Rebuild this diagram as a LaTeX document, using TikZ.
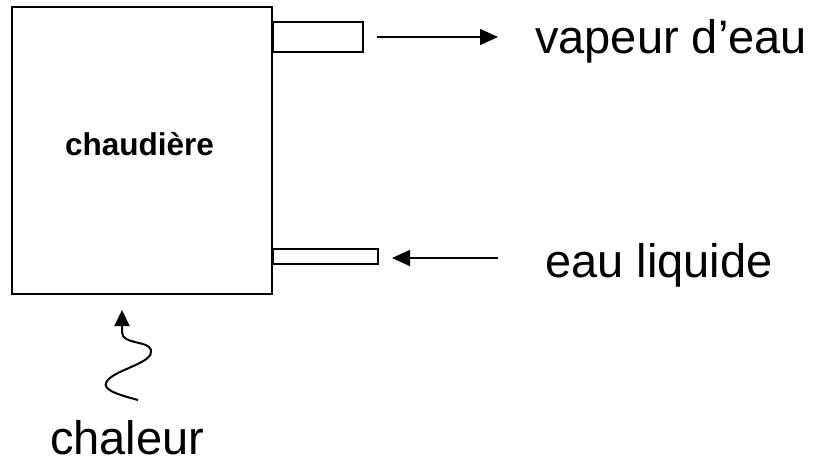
\documentclass[tikz,border=0pt]{standalone}
\usepackage{fontspec}
\setmainfont{Liberation Sans}
\usetikzlibrary{arrows.meta}
\begin{document}
\begin{tikzpicture}[x=1pt,y=-1pt,
  boiler/.style={draw,line width=2pt,inner sep=0pt},
  pipe/.style={draw,line width=1.5pt,inner sep=0pt},
  flow/.style={line width=1.5pt,-{Triangle[length=18pt,width=16pt]}},
  heat/.style={line width=2pt,-{Triangle[length=16pt,width=15pt]}},
  bigtext/.style={inner sep=0pt,anchor=base west,font=\fontsize{47}{56}\selectfont},
  smalltext/.style={inner sep=0pt,anchor=base west,font=\fontsize{31.5}{36}\selectfont\bfseries}]
\useasboundingbox (0,0) rectangle (813,461);
% boiler box
\node[boiler,minimum width=260pt,minimum height=287pt] (boil) at (142,150.5) {};
% pipes
\node[pipe,minimum width=90pt,minimum height=30pt,anchor=west] (pipeA) at (272,37) {};
\node[pipe,minimum width=105pt,minimum height=15pt,anchor=west] (pipeB) at (272,256.5) {};
% arrow ends
\coordinate (aS) at (377,37);
\coordinate (aE) at (498,37);
\coordinate (bS) at (498,258);
\coordinate (bE) at (392,258);
\draw[flow] (aS) -- (aE);
\draw[flow] (bS) -- (bE);
% wavy heat arrow
\coordinate (hS) at (138,400);
\coordinate (hE) at (122,310);
\draw[heat] (hS) .. controls (112,393) and (98,388) .. (110,378)
  .. controls (122,368) and (154,362) .. (151,350)
  .. controls (148,340) and (122,345) .. (122,332) -- (hE);
% texts
\node[smalltext] (tch) at (65,155) {chaudière};
\node[bigtext] (tv) at (535,53) {vapeur d’eau};
\node[bigtext] (tl) at (545,277) {eau liquide};
\node[bigtext] (tc) at (50,454) {chaleur};
\end{tikzpicture}
\end{document}
